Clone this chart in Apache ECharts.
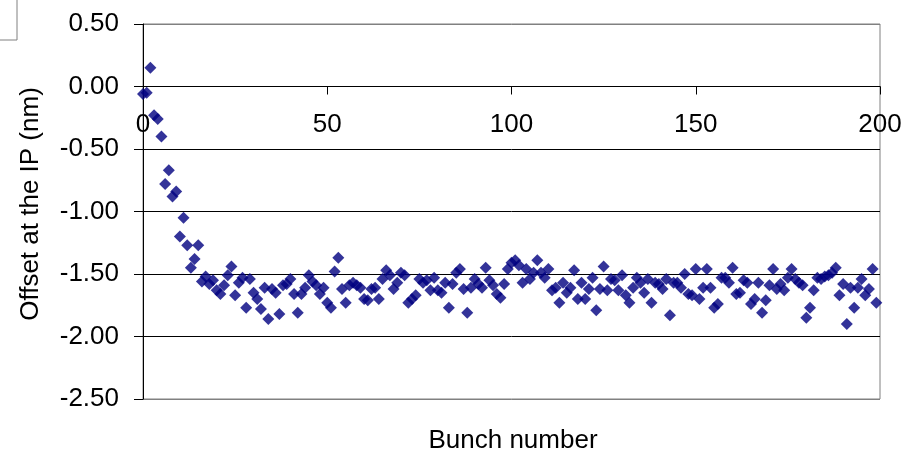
<!DOCTYPE html>
<html>
<head>
<meta charset="utf-8">
<script src="https://cdn.jsdelivr.net/npm/echarts@6/dist/echarts.min.js"></script>
<style>html,body{margin:0;padding:0;background:#fff}#c{width:921px;height:454px}</style>
</head>
<body>
<div id="c"></div>
<script>
// Offset at the IP (nm) per bunch, bunch numbers 0..199
const offsetsA = [-0.06, -0.05, 0.15, -0.23, -0.26, -0.40, -0.78, -0.67, -0.88, -0.84,
  -1.20, -1.05, -1.27, -1.45, -1.38, -1.27, -1.56, -1.52, -1.58, -1.55,
  -1.63, -1.66, -1.59, -1.51, -1.44, -1.67, -1.57, -1.53, -1.77, -1.54,
  -1.65, -1.70, -1.78, -1.61, -1.86, -1.62, -1.65, -1.82, -1.59];
const offsetsB = [-1.58, -1.54, -1.66, -1.81, -1.66, -1.61, -1.51, -1.56, -1.59, -1.66,
  -1.61, -1.73, -1.77, -1.48, -1.37, -1.62, -1.73, -1.59, -1.57, -1.59,
  -1.61, -1.70, -1.71, -1.62, -1.61, -1.70, -1.54, -1.47, -1.51, -1.62,
  -1.57, -1.49, -1.51, -1.73, -1.70, -1.67, -1.54, -1.57, -1.55, -1.63];
const offsetsC = [-1.53, -1.63, -1.65, -1.57, -1.77, -1.58, -1.49, -1.46, -1.62, -1.81,
  -1.61, -1.54, -1.58, -1.61, -1.45, -1.55, -1.59, -1.66, -1.69, -1.58,
  -1.46, -1.41, -1.39, -1.43, -1.57, -1.46, -1.54, -1.49, -1.39, -1.49,
  -1.53, -1.46, -1.63, -1.61, -1.73, -1.57, -1.65, -1.61, -1.47, -1.70];
const offsetsD = [-1.57, -1.70, -1.62, -1.53, -1.79, -1.62, -1.44, -1.63, -1.54, -1.55,
  -1.63, -1.51, -1.67, -1.73, -1.61, -1.53, -1.57, -1.65, -1.54, -1.73,
  -1.57, -1.58, -1.62, -1.54, -1.83, -1.57, -1.57, -1.61, -1.50, -1.66,
  -1.67, -1.46, -1.70, -1.61, -1.46, -1.61, -1.77, -1.74, -1.53, -1.53];
const offsetsE = [-1.57, -1.45, -1.66, -1.65, -1.55, -1.57, -1.74, -1.70, -1.57, -1.81,
  -1.71, -1.59, -1.46, -1.62, -1.58, -1.63, -1.53, -1.46, -1.54, -1.57,
  -1.59, -1.85, -1.77, -1.63, -1.53, -1.54, -1.52, -1.51, -1.49, -1.45,
  -1.67, -1.58, -1.90, -1.61, -1.77, -1.61, -1.54, -1.67, -1.62, -1.46, -1.73];
const offsets = [].concat(offsetsA, offsetsB, offsetsC, offsetsD, offsetsE);
const bunches = offsets.map((_, i) => i);

const xTitle = 'Bunch number';
const yTitle = 'Offset at the IP (nm)';
const font = '"Liberation Sans", Arial, sans-serif';

const chart = echarts.init(document.getElementById('c'), null, {renderer: 'canvas'});
const gridTop = 24, gridBottom = 55, chartH = 454;
chart.setOption({
  animation: false,
  backgroundColor: '#fff',
  grid: {left: 143, right: 41, top: gridTop, bottom: gridBottom, show: true, borderColor: '#808080', borderWidth: 1, backgroundColor: 'transparent'},
  xAxis: {
    type: 'value', min: 0, max: 200, interval: 50, position: 'bottom', offset: 0,
    axisLine: {show: true, onZero: false, lineStyle: {color: '#000', width: 1}},
    axisTick: {show: true, inside: false, length: 8, lineStyle: {color: '#000'}},
    axisLabel: {color: '#000', fontFamily: font, fontSize: 26, margin: 25},
    splitLine: {show: false}
  },
  yAxis: {
    type: 'value', min: -2.5, max: 0.5, interval: 0.5,
    axisLine: {show: true, onZero: false, lineStyle: {color: '#000', width: 1}},
    axisTick: {show: true, inside: false, length: 9, lineStyle: {color: '#000'}},
    axisLabel: {color: '#000', fontFamily: font, fontSize: 26, margin: 24,
      formatter: v => v.toFixed(2)},
    splitLine: {show: true, lineStyle: {color: ['#808080', '#000', '#000', '#000', '#000', '#000', '#808080'], width: 1}}
  },
  graphic: [
    {type: 'rect', shape: {x: -1, y: -1, width: 18, height: 41}, style: {fill: '#fff', stroke: '#808080', lineWidth: 1}},
    {type: 'text', x: 513, y: 441, style: {text: xTitle, fill: '#000', font: '26px ' + font, textAlign: 'center', textVerticalAlign: 'middle'}},
    {type: 'text', x: 31, y: 204, rotation: Math.PI / 2, style: {text: yTitle, fill: '#000', font: '26px ' + font, textAlign: 'center', textVerticalAlign: 'middle'}}
  ],
  series: [{
    type: 'scatter',
    symbol: 'diamond',
    symbolSize: 12,
    itemStyle: {color: '#000080'},
    data: bunches.map((b, i) => [b, offsets[i]])
  }]
});
// place the x axis line where y = 0, as in the reference
const zeroY = chart.convertToPixel({yAxisIndex: 0}, 0);
const bottomY = chartH - gridBottom;
chart.setOption({xAxis: {offset: zeroY - bottomY}});
</script>
</body>
</html>
